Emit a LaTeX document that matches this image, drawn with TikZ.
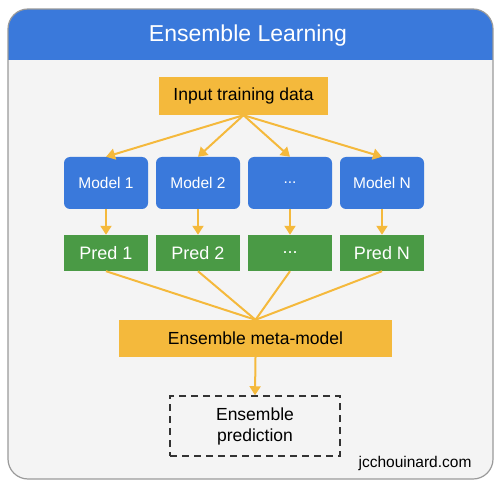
\documentclass[tikz,border=0pt]{standalone}
\usepackage{fontspec}
\setmainfont{Liberation Sans}
\usetikzlibrary{positioning, arrows.meta}

\definecolor{gblue}{HTML}{3A79DB}
\definecolor{ggreen}{HTML}{4A9A45}
\definecolor{gyellow}{HTML}{F4B93C}
\definecolor{bodygray}{HTML}{F4F4F4}
\definecolor{framegray}{HTML}{9A9A9A}

\begin{document}
\begin{tikzpicture}
	[x=1pt, y=-1pt, on grid, node distance=70pt and 92pt,
	 every node/.style={font=\fontsize{17.5}{21}\selectfont},
	 model/.style={rectangle, rounded corners=6pt, fill=gblue, text=white,
	   minimum width=84pt, minimum height=52pt, font=\fontsize{15.5}{19}\selectfont},
	 pred/.style={rectangle, fill=ggreen, text=white,
	   minimum width=84pt, minimum height=36pt, font=\fontsize{18}{21}\selectfont},
	 ybox/.style={rectangle, fill=gyellow, text=black},
	 flow/.style={draw=gyellow, line width=2pt},
	 arr/.style={flow, -{Triangle[length=9pt, width=11pt]}}]
   \useasboundingbox (0,0) rectangle (500,486);
   % frame and header
   \fill[bodygray, rounded corners=20pt] (8,9) rectangle (493,479);
   \begin{scope}
     \clip[rounded corners=20pt] (8,9) rectangle (493,479);
     \fill[gblue] (8,9) rectangle (493,60);
   \end{scope}
   \draw[framegray, line width=1.2pt, rounded corners=20pt] (8,9) rectangle (493,479);
   \node[text=white, font=\fontsize{23}{27}\selectfont] (title) at (248,36) {Ensemble Learning};

   \node[ybox, minimum width=169pt, minimum height=38pt] (in) at (243.5,96) {Input training data};
   \node[model] (m_1) at (106,183) {Model 1};
   \node[model] (m_2) [right=of m_1] {Model 2};
   \node[model] (m_3) [right=of m_2] {...};
   \node[model] (m_4) [right=of m_3] {Model N};
   \node[pred] (p_1) [below=of m_1] {Pred 1};
   \node[pred] (p_2) [below=of m_2] {Pred 2};
   \node[pred] (p_3) [below=of m_3] {...};
   \node[pred] (p_4) [below=of m_4] {Pred N};
   \node[ybox, minimum width=273pt, minimum height=37pt] (meta) at (255.5,338.5) {Ensemble meta-model};
   \node[draw=black!80, dashed, line width=1.5pt, dash pattern=on 7pt off 5pt,
     minimum width=170pt, minimum height=60pt, align=center] (out) at (255,426) {Ensemble\\prediction};
   \node[font=\fontsize{15.5}{18}\selectfont] (site) at (415,463) {jcchouinard.com};

   \foreach \i in {1,...,4} {
     \draw[arr] (in.south) -- (m_\i.north);
     \draw[arr] (m_\i.south) -- (p_\i.north);
     \draw[flow] (p_\i.south) -- (meta.north);
   }
   \draw[arr] (meta.south) -- (out.north);
\end{tikzpicture}
\end{document}
